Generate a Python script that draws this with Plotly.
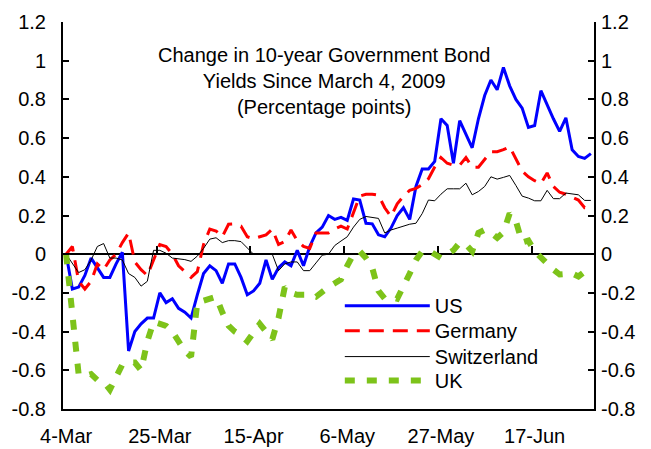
import pandas as pd
import plotly.graph_objects as go

# ---- categories: business days from 4 March 2009 ----
dates = pd.bdate_range("2009-03-04", periods=85)
cat_pos = list(range(len(dates)))
tick_every = 15
tick_idx = list(range(0, len(dates), tick_every))
tick_labels = [f"{dates[i].day}-{dates[i].strftime('%b')}" for i in tick_idx]
boundary_ticks = [i - 0.5 for i in tick_idx[1:]]

us = [0.00, -0.18, -0.17, -0.11, -0.02, -0.07, -0.12, -0.12, -0.05, 0.01,
      -0.50, -0.40, -0.36, -0.33, -0.33, -0.20, -0.25, -0.23, -0.28, -0.30,
      -0.33, -0.21, -0.10, -0.06, -0.085, -0.15, -0.05, -0.05, -0.12, -0.21,
      -0.19, -0.15, -0.03, -0.13, -0.07, -0.04, -0.06, 0.02, -0.06, 0.04,
      0.11, 0.14, 0.20, 0.18, 0.19, 0.175, 0.285, 0.28, 0.16, 0.157,
      0.10, 0.09, 0.135, 0.20, 0.24, 0.18, 0.35, 0.44, 0.44, 0.48,
      0.70, 0.665, 0.47, 0.69, 0.62, 0.55, 0.70, 0.82, 0.90, 0.85,
      0.965, 0.87, 0.80, 0.755, 0.655, 0.665, 0.845, 0.77, 0.70, 0.635,
      0.705, 0.54, 0.505, 0.495, 0.52]

germany = [0.00, 0.04, -0.14, -0.18, -0.14, -0.05, -0.08, -0.03, 0.00, 0.06,
           0.11, -0.04, -0.08, -0.11, -0.03, 0.05, 0.04, 0.00, -0.06, -0.09,
           -0.12, -0.09, 0.05, 0.13, 0.12, 0.09, 0.155, 0.157, 0.145, 0.09,
           0.08, 0.09, 0.10, 0.13, 0.05, 0.066, 0.125, 0.07, 0.04, 0.03,
           0.11, 0.11, 0.11, 0.13, 0.145, 0.13, 0.22, 0.30, 0.31, 0.31,
           0.305, 0.24, 0.195, 0.26, 0.30, 0.33, 0.34, 0.36, 0.39, 0.45,
           0.50, 0.47, 0.46, 0.46, 0.50, 0.45, 0.45, 0.49, 0.53, 0.53,
           0.54, 0.555, 0.49, 0.43, 0.40, 0.38, 0.365, 0.42, 0.35, 0.32,
           0.31, 0.295, 0.28, 0.24, 0.24]

switzerland = [0.00, -0.05, -0.095, -0.08, -0.03, 0.04, 0.055, -0.02, -0.02, -0.03,
               -0.10, -0.12, -0.165, -0.14, 0.02, 0.02, 0.005, -0.02, -0.025, -0.028,
               -0.037, -0.01, 0.03, 0.078, 0.085, 0.06, 0.07, 0.07, 0.065, 0.03,
               0.00, 0.00, 0.00, 0.00, -0.085, -0.05, -0.04, -0.04, -0.085, -0.085,
               -0.045, -0.005, 0.00, 0.045, 0.068, 0.09, 0.14, 0.18, 0.195, 0.19,
               0.185, 0.11, 0.125, 0.135, 0.145, 0.155, 0.16, 0.21, 0.28, 0.276,
               0.31, 0.338, 0.338, 0.338, 0.367, 0.307, 0.324, 0.35, 0.40, 0.388,
               0.397, 0.407, 0.355, 0.30, 0.29, 0.276, 0.276, 0.33, 0.287, 0.287,
               0.316, 0.31, 0.307, 0.278, 0.278]

uk = [0.00, -0.33, -0.62, -0.63, -0.62, -0.65, -0.66, -0.70, -0.64, -0.57,
      -0.56, -0.56, -0.60, -0.45, -0.35, -0.36, -0.37, -0.40, -0.45, -0.50,
      -0.53, -0.25, -0.24, -0.23, -0.22, -0.30, -0.37, -0.40, -0.42, -0.45,
      -0.40, -0.36, -0.40, -0.44, -0.33, -0.17, -0.20, -0.21, -0.21, -0.21,
      -0.22, -0.19, -0.17, -0.15, -0.13, -0.06, 0.00, 0.015, -0.02, -0.07,
      -0.19, -0.23, -0.22, -0.23, -0.17, -0.10, -0.03, 0.015, 0.02, 0.00,
      -0.02, 0.00, 0.02, 0.06, 0.05, 0.015, 0.11, 0.126, 0.11, 0.085,
      0.113, 0.21, 0.17, 0.06, 0.07, 0.015, -0.02, -0.05, -0.08, -0.105,
      -0.10, -0.10, -0.115, -0.09, -0.09]

y_ticks = [-0.8, -0.6, -0.4, -0.2, 0, 0.2, 0.4, 0.6, 0.8, 1.0, 1.2]
y_tick_text = ["-0.8", "-0.6", "-0.4", "-0.2", "0", "0.2", "0.4", "0.6", "0.8", "1", "1.2"]
y_range = [-0.8, 1.2]

title_lines = ["Change in 10-year Government Bond",
               "Yields Since March 4, 2009",
               "(Percentage points)"]

FONT = "Liberation Sans, Arial, sans-serif"
FS = 20

# The page body has an 8px default margin: size the figure to fill the rest
BODY = 8
W, H = 651 - BODY, 449 - BODY
# plot area in window pixels: x 63.4..594, y 22..409.5
ML, MR, MT, MB = 63.4 - BODY, 651 - 594, 22 - BODY, 449 - 409.5
PW, PH = W - ML - MR, H - MT - MB


def px_x(px):  # window px -> paper fraction
    return (px - BODY - ML) / PW


def px_y(py):
    return (H - MB - (py - BODY)) / PH


series = [("US", us, dict(color="#0000FF", width=3)),
          ("Germany", germany, dict(color="#FF0000", width=3, dash="15px,9px")),
          ("Switzerland", switzerland, dict(color="#000000", width=1)),
          ("UK", uk, dict(color="#7DC31A", width=6, dash="10px,12px"))]
legend_rows_px = [306.5, 331.5, 357.5, 381.5]

fig = go.Figure()
legend_layout = {}
for k, (name, vals, line) in enumerate(series):
    lname = "legend" if k == 0 else f"legend{k + 1}"
    fig.add_trace(go.Scatter(x=cat_pos, y=vals, name=name, mode="lines",
                             line=line, legend=lname))
    legend_layout[lname] = dict(
        xref="paper", yref="paper", x=px_x(340), y=px_y(legend_rows_px[k] - 20),
        xanchor="left", yanchor="top", itemwidth=85,
        bgcolor="rgba(0,0,0,0)", font=dict(size=FS, family=FONT))

xr = [-0.5, len(dates) - 0.5]

fig.update_layout(
    width=W, height=H,
    margin=dict(l=ML, r=MR, t=MT, b=MB, pad=0, autoexpand=False),
    paper_bgcolor="white", plot_bgcolor="white",
    font=dict(family=FONT, size=FS, color="black"),
    showlegend=True,
    xaxis=dict(range=xr, tickmode="array", tickvals=tick_idx, ticktext=tick_labels,
               showgrid=False, zeroline=False, showline=True, linecolor="black",
               linewidth=2, ticks="", tickangle=0, ticklabelstandoff=8,
               tickfont=dict(size=FS)),
    xaxis2=dict(range=xr, overlaying="x", anchor="free",
                position=(0 - y_range[0]) / (y_range[1] - y_range[0]),
                tickmode="array", tickvals=boundary_ticks, showticklabels=False,
                ticks="inside", ticklen=7, tickwidth=2, tickcolor="black",
                showline=True, linecolor="black", linewidth=2,
                showgrid=False, zeroline=False, layer="below traces"),
    yaxis=dict(range=y_range, tickmode="array", tickvals=y_ticks, ticktext=y_tick_text,
               showgrid=False, zeroline=False, showline=True, linecolor="black",
               linewidth=2, ticks="inside", ticklen=6, tickwidth=2, tickcolor="black",
               ticklabelstandoff=11, tickfont=dict(size=FS)),
    yaxis2=dict(range=y_range, overlaying="y", side="right", matches="y",
                tickmode="array", tickvals=y_ticks, ticktext=y_tick_text,
                showgrid=False, zeroline=False, showline=True, linecolor="black",
                linewidth=2, ticks="inside", ticklen=6, tickwidth=2, tickcolor="black",
                ticklabelstandoff=1, tickfont=dict(size=FS)),
    **legend_layout,
)

# invisible trace so the secondary axes are rendered
fig.add_trace(go.Scatter(x=[cat_pos[0]], y=[0], xaxis="x2", yaxis="y2",
                         mode="markers", marker=dict(opacity=0), showlegend=False,
                         hoverinfo="skip"))

fig.add_annotation(text="<br>".join(title_lines), xref="paper", yref="paper",
                   x=px_x(324), y=px_y(42),
                   xanchor="center", yanchor="top",
                   showarrow=False, font=dict(size=FS, family=FONT), align="center")

fig.write_html("out.html")
